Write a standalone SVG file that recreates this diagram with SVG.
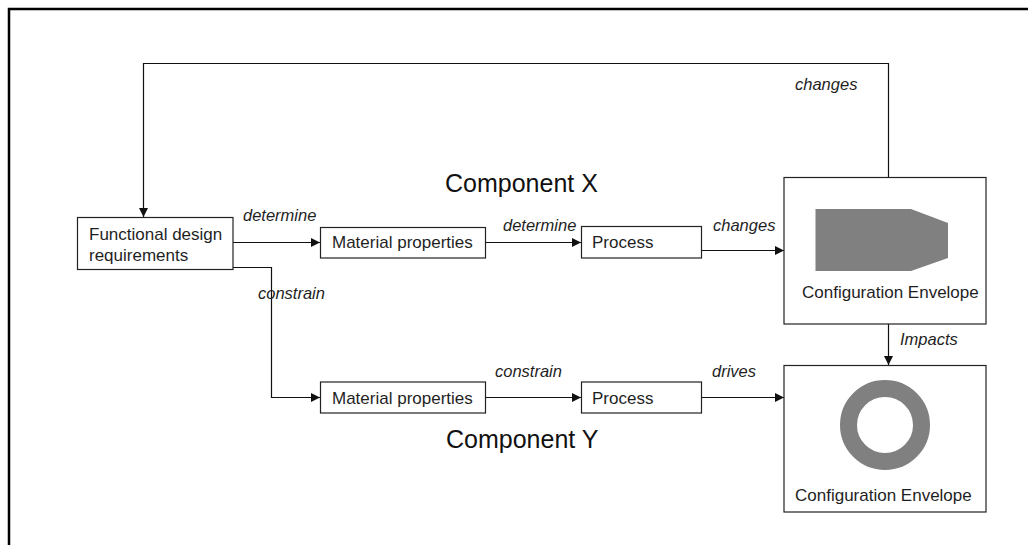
<svg xmlns="http://www.w3.org/2000/svg" width="1028" height="545" viewBox="0 0 1028 545">
  <style>
    .box { fill: #ffffff; stroke: #222222; stroke-width: 1.2; }
    .txt { font-family: "Liberation Sans", Arial, sans-serif; font-size: 17px; fill: #1f1f1f; }
    .lbl { font-family: "Liberation Sans", Arial, sans-serif; font-size: 16.5px; font-style: italic; fill: #1f1f1f; }
    .title { font-family: "Liberation Sans", Arial, sans-serif; font-size: 25px; fill: #111111; }
    .wire { fill: none; stroke: #111111; stroke-width: 1.2; }
    .shape { fill: #808080; }
  </style>
  <defs>
    <marker id="arrow" viewBox="0 0 10 10" refX="10" refY="5" markerWidth="9" markerHeight="9" markerUnits="userSpaceOnUse" orient="auto">
      <path d="M0,0 L10,5 L0,10 z" fill="#111111"/>
    </marker>
  </defs>

  <rect width="1028" height="545" fill="#ffffff"/>
  <!-- outer frame, runs off the right and bottom edges -->
  <path d="M9,560 L9,9 L1040,9" fill="none" stroke="#000000" stroke-width="2.5"/>

  <!-- connectors -->
  <g id="connectors">
    <path class="wire" d="M888.5,177 L888.5,63.5 L143.5,63.5 L143.5,217" marker-end="url(#arrow)"/>
    <path class="wire" d="M233,242.5 L320,242.5" marker-end="url(#arrow)"/>
    <path class="wire" d="M233,267.5 L271.5,267.5 L271.5,397.5 L320,397.5" marker-end="url(#arrow)"/>
    <path class="wire" d="M486,242.5 L581,242.5" marker-end="url(#arrow)"/>
    <path class="wire" d="M702,250.5 L784,250.5" marker-end="url(#arrow)"/>
    <path class="wire" d="M486,397.5 L581,397.5" marker-end="url(#arrow)"/>
    <path class="wire" d="M702,397.5 L784,397.5" marker-end="url(#arrow)"/>
    <path class="wire" d="M888.5,324 L888.5,365" marker-end="url(#arrow)"/>

    <text class="lbl" x="795" y="90">changes</text>
    <text class="lbl" x="243" y="221">determine</text>
    <text class="lbl" x="258" y="299">constrain</text>
    <text class="lbl" x="503" y="231">determine</text>
    <text class="lbl" x="713" y="231">changes</text>
    <text class="lbl" x="495" y="377">constrain</text>
    <text class="lbl" x="712" y="377">drives</text>
    <text class="lbl" x="900" y="345">Impacts</text>
  </g>

  <!-- section titles -->
  <text class="title" x="445" y="192">Component X</text>
  <text class="title" x="446" y="448">Component Y</text>

  <g id="functional-design">
    <rect class="box" x="77.5" y="217.5" width="155.5" height="52"/>
    <text class="txt" x="89" y="240">Functional design</text>
    <text class="txt" x="89" y="261">requirements</text>
  </g>

  <g id="material-x">
    <rect class="box" x="320.5" y="227.5" width="165" height="30.5"/>
    <text class="txt" x="332" y="248">Material properties</text>
  </g>

  <g id="process-x">
    <rect class="box" x="581.5" y="226.5" width="120" height="31.5"/>
    <text class="txt" x="592" y="248">Process</text>
  </g>

  <g id="envelope-x">
    <rect class="box" x="784" y="177.5" width="202" height="146.5"/>
    <path class="shape" d="M815.5,209 L911,209 L948,223 L948,258 L911,271 L815.5,271 z"/>
    <text class="txt" x="802" y="298">Configuration Envelope</text>
  </g>

  <g id="material-y">
    <rect class="box" x="320.5" y="382" width="165" height="31"/>
    <text class="txt" x="332" y="404">Material properties</text>
  </g>

  <g id="process-y">
    <rect class="box" x="581.5" y="382" width="120" height="31"/>
    <text class="txt" x="592" y="404">Process</text>
  </g>

  <g id="envelope-y">
    <rect class="box" x="784" y="365.5" width="202" height="146.5"/>
    <circle cx="885" cy="425" r="36.5" fill="none" stroke="#808080" stroke-width="17"/>
    <text class="txt" x="795" y="501">Configuration Envelope</text>
  </g>
</svg>
